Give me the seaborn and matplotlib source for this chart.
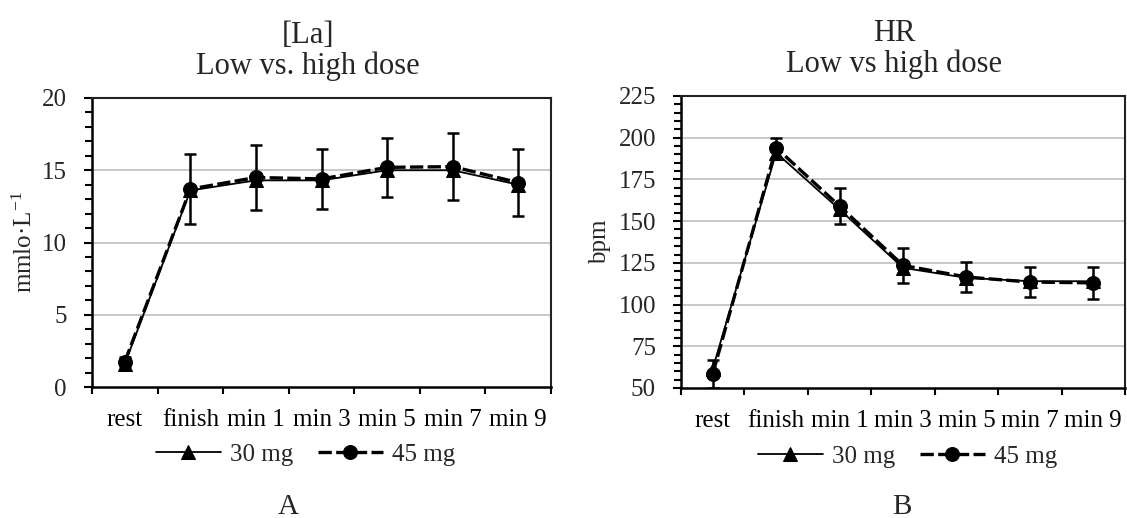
import numpy as np
import pandas as pd
import matplotlib
matplotlib.use("Agg")
import matplotlib.pyplot as plt
from matplotlib.ticker import MultipleLocator, FixedLocator
import seaborn as sns

# ---------------- data ----------------
categories = ["rest", "finish", "min 1", "min 3", "min 5", "min 7", "min 9"]
series_names = ["30 mg", "45 mg"]

la_30 = [1.6, 13.6, 14.3, 14.3, 15.0, 15.0, 14.0]
la_45 = [1.75, 13.7, 14.5, 14.4, 15.2, 15.25, 14.15]
la_err = [0.3, 2.45, 2.25, 2.05, 2.05, 2.3, 2.35]

hr_30 = [61.5, 191.0, 157.0, 122.0, 116.0, 114.0, 114.0]
hr_45 = [58.5, 194.0, 159.0, 123.5, 116.5, 113.5, 113.0]
hr_err = [8.5, 6.0, 10.6, 10.4, 9.1, 9.1, 9.8]

titles = ["[La]\nLow vs. high dose", "HR\nLow vs high dose"]
ylabels = ["mmlo·L$^{\\mathregular{-1}}$", "bpm"]
panel_letters = ["A", "B"]

# ---------------- style ----------------
sns.set_theme(style="white")
plt.rcParams["font.family"] = ["Liberation Serif", "DejaVu Serif"]
plt.rcParams["mathtext.fontset"] = "custom"
plt.rcParams["mathtext.rm"] = "Liberation Serif"
plt.rcParams["mathtext.it"] = "Liberation Serif:italic"

FS_TICK = 18
FS_TITLE = 22

fig = plt.figure(figsize=(11.27, 5.18), dpi=100)
W, H = 1127, 518
ax1 = fig.add_axes([92 / W, 1 - 387 / H, (551 - 92) / W, (387 - 98) / H])
ax2 = fig.add_axes([681 / W, 1 - 388 / H, (1125 - 681) / W, (388 - 96) / H])

pos = np.arange(len(categories))


def draw(ax, v30, v45, err, ylim, major, minor, title, ylabel, ylab_x, title_x, leg_x):
    df = pd.DataFrame({
        "pos": np.concatenate([pos, pos]),
        "value": np.concatenate([v30, v45]),
        "dose": [series_names[0]] * len(pos) + [series_names[1]] * len(pos),
    })
    for g in np.arange(ylim[0] + major, ylim[1], major):
        ax.axhline(g, color="#c4c4c4", lw=1.3, zorder=0)
    ax.errorbar(pos, v45, yerr=err, fmt="none", ecolor="black", elinewidth=1.8,
                capsize=4.5, capthick=1.8, zorder=2)
    sns.lineplot(data=df[df["dose"] == series_names[0]], x="pos", y="value",
                 ax=ax, color="black", lw=1.3, marker="^", markersize=10,
                 markeredgecolor="black", label=series_names[0], zorder=3)
    sns.lineplot(data=df[df["dose"] == series_names[1]], x="pos", y="value",
                 ax=ax, color="black", lw=2.4, marker="o", markersize=10,
                 markeredgecolor="black", label=series_names[1], zorder=4)
    ax.lines[-1].set_dashes((4, 1.3))

    ax.set_xlim(-0.5, len(categories) - 0.5)
    ax.set_ylim(*ylim)
    ax.set_xticks(pos)
    ax.set_xticklabels(categories)
    ax.xaxis.set_minor_locator(FixedLocator(np.arange(-0.5, len(categories), 1.0)))
    ax.tick_params(axis="x", which="major", length=0, pad=16, labelsize=FS_TICK,
                   colors="black")
    ax.tick_params(axis="x", which="minor", length=5, width=1.5, direction="out",
                   color="black", bottom=True)
    ax.yaxis.set_major_locator(MultipleLocator(major))
    ax.yaxis.set_minor_locator(MultipleLocator(minor))
    ax.tick_params(axis="y", which="major", length=6, width=1.5, direction="out",
                   pad=12, labelsize=FS_TICK, left=True, color="black")
    ax.tick_params(axis="y", which="minor", length=5, width=1.5, direction="out",
                   left=True, color="black")
    ax.set_xlabel("")
    ax.set_ylabel(ylabel, fontsize=FS_TICK)
    ax.yaxis.set_label_coords(ylab_x, 0.5)
    ax.set_title(title, fontsize=FS_TITLE, pad=17, linespacing=1.08, x=title_x)
    for side in ["left", "bottom"]:
        ax.spines[side].set_color("black")
        ax.spines[side].set_linewidth(1.8)
    for side in ["top", "right"]:
        ax.spines[side].set_visible(True)
        ax.spines[side].set_color("#222222")
        ax.spines[side].set_linewidth(1.5)
    ax.legend(loc="center", bbox_to_anchor=(leg_x, -0.235), ncol=2,
              frameon=False, fontsize=FS_TICK, handlelength=2.6,
              handletextpad=0.35, columnspacing=1.0, markerscale=1.0)


draw(ax1, la_30, la_45, la_err, (0, 20), 5, 1, titles[0], ylabels[0], -0.12, 0.47, 0.465)
draw(ax2, hr_30, hr_45, hr_err, (50, 225), 25, 5, titles[1], ylabels[1], -0.158, 0.48, 0.51)

fig.text(288 / W, 1 - 514 / H, panel_letters[0], ha="center", va="baseline", fontsize=FS_TITLE - 1)
fig.text(902 / W, 1 - 514 / H, panel_letters[1], ha="center", va="baseline", fontsize=FS_TITLE - 1)

fig.savefig("out.png", dpi=100, facecolor="white")
